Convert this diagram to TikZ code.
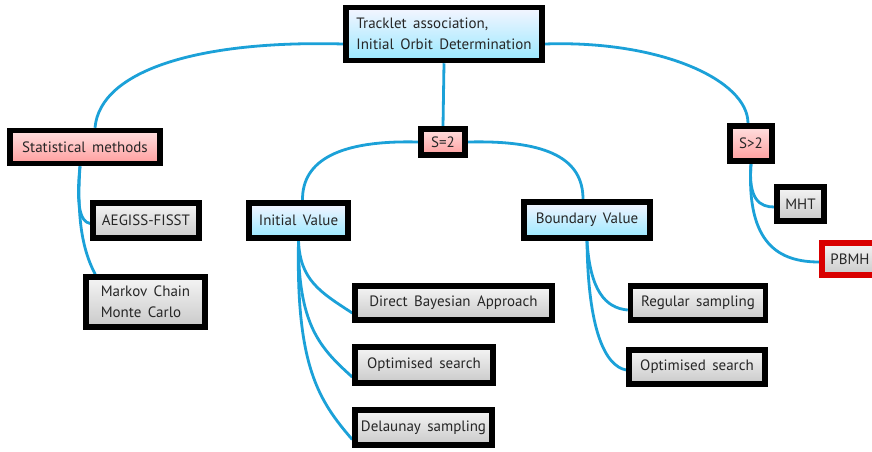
\documentclass[tikz,border=0pt]{standalone}
\usepackage{fontspec}
\setmainfont[WordSpace=1.6]{PT Sans}
\usetikzlibrary{backgrounds}
\definecolor{link}{HTML}{1BA1D8}
\begin{document}
\begin{tikzpicture}[x=1pt,y=-1pt,
  box/.style={draw=black,line width=5.5pt,rectangle,inner sep=0pt,font=\fontsize{15}{21}\selectfont,text=black!85,align=left},
  bluebox/.style={box,top color=blue!4,bottom color=blue!22!cyan!40!white},
  pinkbox/.style={box,top color=red!12,bottom color=red!38},
  greybox/.style={box,top color=gray!8,bottom color=gray!42},
  redbox/.style={greybox,draw=red!85!black},
  conn/.style={draw=link,line width=2.8pt}]
\useasboundingbox (0,0) rectangle (872,451);
\node[bluebox,minimum width=196pt,minimum height=53pt] (top) at (444,34) {Tracklet association,\\Initial Orbit Determination};
\node[pinkbox,minimum width=150pt,minimum height=33pt] (stat) at (85,147) {Statistical methods};
\node[pinkbox,minimum width=44pt,minimum height=26pt] (s2) at (443,142) {S=2};
\node[pinkbox,minimum width=42pt,minimum height=35pt] (sg2) at (751,143.5) {S>2};
\node[greybox,minimum width=106pt,minimum height=35pt] (aeg) at (146,220.5) {AEGISS-FISST};
\node[greybox,minimum width=119pt,minimum height=50pt] (mcmc) at (145.5,302) {Markov Chain\\Monte Carlo};
\node[bluebox,minimum width=99pt,minimum height=35pt] (iv) at (298.5,220.5) {Initial Value};
\node[greybox,minimum width=197pt,minimum height=34pt] (dba) at (453.5,303) {Direct Bayesian Approach};
\node[greybox,minimum width=138pt,minimum height=36pt] (os1) at (424,365) {Optimised search};
\node[greybox,minimum width=137pt,minimum height=35pt] (del) at (423.5,427.5) {Delaunay sampling};
\node[bluebox,minimum width=126pt,minimum height=36pt] (bv) at (587,220) {Boundary Value};
\node[greybox,minimum width=135pt,minimum height=34pt] (rs) at (698,303) {Regular sampling};
\node[greybox,minimum width=136pt,minimum height=34pt] (os2) at (697,367) {Optimised search};
\node[greybox,minimum width=47pt,minimum height=34pt] (mht) at (800.5,204) {MHT};
\node[redbox,minimum width=56pt,minimum height=32pt] (pbmh) at (850,259) {PBMH};
\begin{scope}[on background layer]
\fill[white] (0,0) rectangle (872,451);
\draw[conn] ([yshift=-10pt]top.west) .. controls (200,40) and (100,70) .. ([xshift=10pt]stat.north);
\draw[conn] ([yshift=-10pt]top.east) .. controls (660,40) and (748,80) .. ([xshift=-3pt]sg2.north);
\draw[conn] (top.south) -- (s2.north);
\draw[conn] (s2.west) .. controls (340,140) and (302,160) .. ([xshift=4pt]iv.north);
\draw[conn] (s2.east) .. controls (550,140) and (583,160) .. ([xshift=-4pt]bv.north);
\draw[conn] ([xshift=-5pt]stat.south) .. controls (76,205) and (80,222) .. ([yshift=-3pt]aeg.west);
\draw[conn] ([xshift=-5pt]stat.south) .. controls (76,225) and (85,255) .. ([xshift=12pt]mcmc.north west);
\draw[conn] (iv.south) .. controls (300,280) and (320,292) .. ([yshift=-10pt]dba.west);
\draw[conn] (iv.south) .. controls (298,325) and (320,348) .. ([yshift=-12pt]os1.west);
\draw[conn] (iv.south) .. controls (296,365) and (318,400) .. ([yshift=-12pt]del.west);
\draw[conn] (bv.south) .. controls (590,290) and (605,308) .. ([yshift=-7pt]rs.west);
\draw[conn] (bv.south) .. controls (588,330) and (605,366) .. ([yshift=-3pt]os2.west);
\draw[conn] (sg2.south) .. controls (748,200) and (760,207) .. ([yshift=-3pt]mht.west);
\draw[conn] (sg2.south) .. controls (746,245) and (780,262) .. ([yshift=-3pt]pbmh.west);
\end{scope}
\end{tikzpicture}
\end{document}
